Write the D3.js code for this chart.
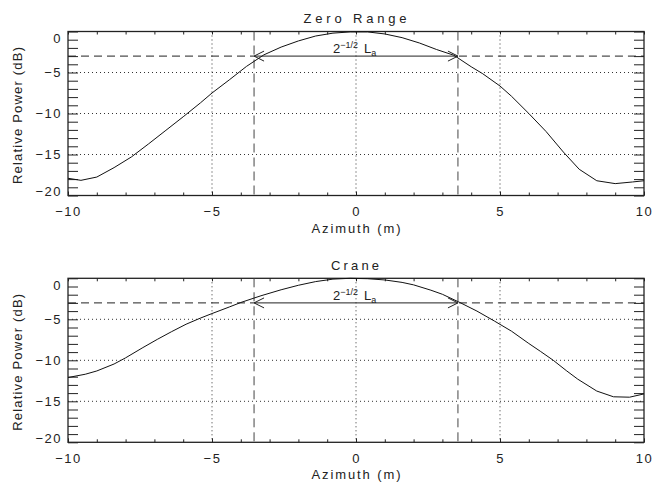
<!DOCTYPE html>
<html>
<head>
<meta charset="utf-8">
<script src="https://cdn.jsdelivr.net/npm/d3@7"></script>
<style>
body { margin: 0; background: #fff; }
text { font-family: "Liberation Sans", Arial, sans-serif; fill: #222; }
</style>
</head>
<body>
<div id="chart"></div>
<script>
// azimuth (m) / relative power (dB)
var zeroAz = [-10, -9.55, -9.0, -8.4, -7.8, -7.2, -6.6, -6.0, -5.4, -5.0, -4.4, -3.8, -3.2, -2.6, -2.0, -1.4, -0.8, -0.2, 0.4, 1.0, 1.6, 2.2, 2.8, 3.4, 4.0, 4.4, 5.0, 5.4, 6.0, 6.6, 7.2, 7.75, 8.36, 9.0, 9.6, 10]
var zeroDb = [-17.9, -18.15, -17.75, -16.6, -15.3, -13.7, -12.05, -10.4, -8.7, -7.5, -5.9, -4.25, -2.85, -1.9, -1.15, -0.55, -0.2, -0.05, -0.05, -0.3, -0.75, -1.4, -2.2, -2.9, -4.3, -5.15, -6.65, -7.9, -10.0, -12.2, -14.7, -16.8, -18.2, -18.55, -18.35, -18.2]
var craneAz = [-10, -9.4, -9.0, -8.4, -8.0, -7.4, -6.9, -6.4, -5.9, -5.4, -5.0, -4.4, -4.0, -3.3, -2.6, -2.0, -1.4, -0.8, -0.2, 0.4, 1.0, 1.6, 2.0, 2.6, 3.0, 3.6, 4.2, 4.8, 5.4, 6.0, 6.4, 6.85, 7.3, 7.7, 8.36, 8.94, 9.5, 10]
var craneDb = [-12.1, -11.7, -11.3, -10.45, -9.7, -8.45, -7.45, -6.5, -5.6, -4.85, -4.3, -3.5, -2.95, -2.13, -1.4, -0.85, -0.4, -0.1, 0.0, -0.05, -0.2, -0.5, -0.8, -1.45, -1.95, -2.94, -4.0, -5.2, -6.45, -7.95, -8.9, -10.0, -11.25, -12.3, -13.75, -14.45, -14.5, -14.1]

var xMajor = [-10, -5, 0, 5, 10]
var xMinor = [-9, -8, -7, -6, -4, -3, -2, -1, 1, 2, 3, 4, 6, 7, 8, 9]
var yMajor = [-20, -15, -10, -5, 0]
var yMinor = [-19, -18, -17, -16, -14, -13, -12, -11, -9, -8, -7, -6, -4, -3, -2, -1]
var gridX = [-5, 0, 5]
var gridY = [-15, -10, -5]
var halfPower = -3      // dB
var beamEdge = 3.54     // m, 2^-1/2 La

var margin = {left: 68},
    width = 576,
    height = 164;

var svg = d3.select("#chart").append("svg")
  .attr("width", 652)
  .attr("height", 483)

var defs = svg.append("defs")
defs.append("marker")
  .attr("id", "head")
  .attr("viewBox", "-11 -6 12 12")
  .attr("refX", 0).attr("refY", 0)
  .attr("markerWidth", 12).attr("markerHeight", 12)
  .attr("markerUnits", "userSpaceOnUse")
  .attr("orient", "auto-start-reverse")
  .append("path")
    .attr("d", "M-10,-5L0,0L-10,5")
    .attr("fill", "none")
    .attr("stroke", "#222")
    .attr("stroke-width", 1)

var minus = function(d){ return d < 0 ? "\u2212" + Math.abs(d) : "" + d }

var drawPanel = function(title, az, db, top){
  var data = az.map(function(a, i){ return {az: a, db: db[i]} })
  var g = svg.append("g")
    .attr("transform", "translate(" + margin.left + "," + top + ")")

  var x = d3.scaleLinear().domain([-10, 10]).range([0, width])
  var y = d3.scaleLinear().domain([-20, 0]).range([height, 0])

  // dotted grid
  g.selectAll(".gx").data(gridX).enter().append("line")
    .attr("x1", function(d){ return x(d) }).attr("x2", function(d){ return x(d) })
    .attr("y1", 0).attr("y2", height)
    .attr("stroke", "#333").attr("stroke-width", 1)
    .attr("stroke-dasharray", "1,3")
  g.selectAll(".gy").data(gridY).enter().append("line")
    .attr("x1", 0).attr("x2", width)
    .attr("y1", function(d){ return y(d) }).attr("y2", function(d){ return y(d) })
    .attr("stroke", "#333").attr("stroke-width", 1)
    .attr("stroke-dasharray", "1,3")

  // ticks on all four sides, pointing in
  g.append("g").attr("transform", "translate(0," + height + ")")
    .call(d3.axisBottom(x).tickValues(xMinor).tickSize(-3).tickFormat(""))
  g.append("g").attr("transform", "translate(0," + height + ")")
    .call(d3.axisBottom(x).tickValues(xMajor).tickSize(-4).tickPadding(11).tickFormat(minus))
  g.append("g")
    .call(d3.axisTop(x).tickValues(xMinor.concat(xMajor)).tickSize(-3).tickFormat(""))
  g.append("g")
    .call(d3.axisLeft(y).tickValues(yMinor).tickSize(-10).tickFormat(""))
  g.append("g").attr("class", "ylab")
    .call(d3.axisLeft(y).tickValues(yMajor).tickSize(-10).tickPadding(6).tickFormat(minus))
  g.append("g").attr("transform", "translate(" + width + ",0)")
    .call(d3.axisRight(y).tickValues(yMinor.concat(yMajor)).tickSize(-10).tickFormat(""))

  g.selectAll(".domain").remove()
  g.selectAll(".tick line").attr("stroke", "#222")
  g.selectAll(".tick text")
    .style("font-size", "13px")
    .style("letter-spacing", "1.5px")
    .attr("fill", "#222")
  g.select(".ylab").selectAll("text")
    .attr("dy", function(d){ return d == 0 ? "0.84em" : d == -20 ? "0em" : "0.32em" })

  g.append("rect")
    .attr("width", width).attr("height", height)
    .attr("fill", "none").attr("stroke", "#222").attr("stroke-width", 1.3)

  // -3 dB level and beam edges
  g.append("line")
    .attr("x1", x(-10)).attr("x2", x(-beamEdge))
    .attr("y1", y(halfPower)).attr("y2", y(halfPower))
    .attr("stroke", "#222").attr("stroke-dasharray", "8,5")
  g.append("line")
    .attr("x1", x(beamEdge) + 1).attr("x2", x(10))
    .attr("y1", y(halfPower)).attr("y2", y(halfPower))
    .attr("stroke", "#222").attr("stroke-dasharray", "8,5")
  g.selectAll(".edge").data([-beamEdge, beamEdge]).enter().append("line")
    .attr("x1", function(d){ return x(d) }).attr("x2", function(d){ return x(d) })
    .attr("y1", 0).attr("y2", height)
    .attr("stroke", "#444").attr("stroke-dasharray", "9,5")

  g.append("line")
    .attr("x1", x(-beamEdge)).attr("x2", x(beamEdge))
    .attr("y1", y(halfPower)).attr("y2", y(halfPower))
    .attr("stroke", "#222").attr("stroke-width", 1)
    .attr("marker-start", "url(#head)")
    .attr("marker-end", "url(#head)")

  var lab = g.append("text")
    .attr("x", x(-0.8)).attr("y", y(halfPower) - 3)
    .style("font-size", "13px")
  lab.append("tspan").text("2")
  lab.append("tspan").attr("dy", -5).style("font-size", "9px").text("\u22121/2")
  lab.append("tspan").attr("dy", 5).attr("dx", 6).text("L")
  lab.append("tspan").attr("dy", 3).style("font-size", "9px").text("a")

  // trace
  g.append("path")
    .datum(data)
    .attr("fill", "none")
    .attr("stroke", "#111")
    .attr("stroke-width", 1)
    .attr("d", d3.line()
      .x(function(d){ return x(d.az) })
      .y(function(d){ return y(d.db) }))

  // titles
  g.append("text")
    .attr("x", x(0) - 1).attr("y", -8.5)
    .attr("text-anchor", "middle")
    .style("font-size", "13px")
    .attr("textLength", title == "Crane" ? 48 : 103)
    .text(title)
  g.append("text")
    .attr("x", x(0)).attr("y", height + 37)
    .attr("text-anchor", "middle")
    .style("font-size", "13px")
    .attr("textLength", 89)
    .text("Azimuth (m)")
  g.append("text")
    .attr("transform", "translate(-46," + (height / 2 + 2) + ") rotate(-90)")
    .attr("text-anchor", "middle")
    .style("font-size", "13px")
    .attr("textLength", 137)
    .text("Relative Power (dB)")
}

drawPanel("Zero Range", zeroAz, zeroDb, 31.5)
drawPanel("Crane", craneAz, craneDb, 278.3)
</script>
</body>
</html>
